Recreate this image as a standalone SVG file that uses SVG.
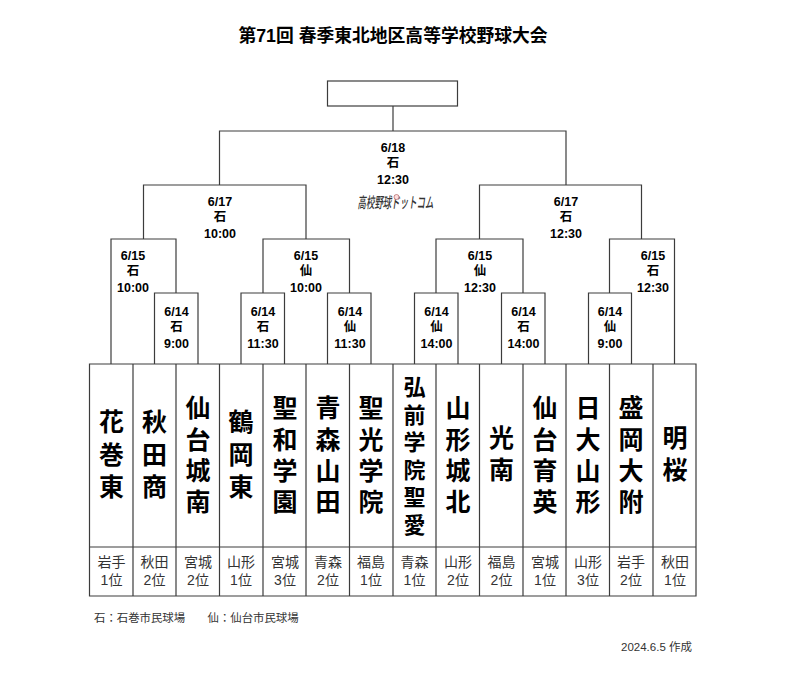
<svg xmlns="http://www.w3.org/2000/svg" width="800" height="674" viewBox="0 0 800 674">
<style>
text{font-family:"Liberation Sans","Noto Sans CJK JP",sans-serif;text-anchor:middle;fill:#000}
.l{fill:none;stroke:#3c3c3c;stroke-width:1.2}
.c{fill:#fff;stroke:#3c3c3c;stroke-width:1.2}
.m{font-size:12.500px;font-weight:700}
.n{font-size:25px;font-weight:700}
.n6{font-size:22px;font-weight:700}
.r{font-size:14px;fill:#333}
.f{font-size:11.400px;fill:#333;text-anchor:start}
</style>
<rect width="800" height="674" fill="#fff"/>
<text id="title" x="393" y="41.500" font-size="17.800" font-weight="700">第71回 春季東北地区高等学校野球大会</text>
<g id="connectors">
<path class="l" d="M393 106V131M219.500 185V131H566V185"/>
<path class="l" d="M143.500 239V185H306V239M479.500 239V185H641.500V239"/>
<path class="l" d="M111 364V239H176V293M263 293V239H349.500V293M436 293V239H523V293M609.500 293V239H674.500V364"/>
<path class="l" d="M154.500 364V293H198V364M241 364V293H284.500V364M327.500 364V293H371V364M414.500 364V293H458V364M501.500 364V293H545V364M588.500 364V293H631.500V364"/>
</g>
<g id="final"><rect class="c" x="327.500" y="81" width="130" height="25"/></g>
<g id="m-618" class="m"><text x="393" y="151.500">6/18</text><text x="393" y="167">石</text><text x="393" y="183.500">12:30</text></g>
<g id="m-617a" class="m"><text x="220" y="205.500">6/17</text><text x="220" y="221">石</text><text x="220" y="237.500">10:00</text></g>
<g id="m-617b" class="m"><text x="566" y="205.500">6/17</text><text x="566" y="221">石</text><text x="566" y="237.500">12:30</text></g>
<g id="m-615a" class="m"><text x="133" y="260">6/15</text><text x="133" y="275">石</text><text x="133" y="291.500">10:00</text></g>
<g id="m-615b" class="m"><text x="306" y="260">6/15</text><text x="306" y="275">仙</text><text x="306" y="291.500">10:00</text></g>
<g id="m-615c" class="m"><text x="480" y="260">6/15</text><text x="480" y="275">仙</text><text x="480" y="291.500">12:30</text></g>
<g id="m-615d" class="m"><text x="653" y="260">6/15</text><text x="653" y="275">石</text><text x="653" y="291.500">12:30</text></g>
<g id="m-614a" class="m"><text x="176.500" y="315.500">6/14</text><text x="176.500" y="331">石</text><text x="176.500" y="347.500">9:00</text></g>
<g id="m-614b" class="m"><text x="263" y="315.500">6/14</text><text x="263" y="331">石</text><text x="263" y="347.500">11:30</text></g>
<g id="m-614c" class="m"><text x="350" y="315.500">6/14</text><text x="350" y="331">仙</text><text x="350" y="347.500">11:30</text></g>
<g id="m-614d" class="m"><text x="436.500" y="315.500">6/14</text><text x="436.500" y="331">仙</text><text x="436.500" y="347.500">14:00</text></g>
<g id="m-614e" class="m"><text x="523.500" y="315.500">6/14</text><text x="523.500" y="331">石</text><text x="523.500" y="347.500">14:00</text></g>
<g id="m-614f" class="m"><text x="610" y="315.500">6/14</text><text x="610" y="331">仙</text><text x="610" y="347.500">9:00</text></g>
<g id="logo"><text x="395.500" y="208" font-size="15" font-weight="500" style="fill:#333;font-style:italic" textLength="76" lengthAdjust="spacingAndGlyphs">高校野球ドットコム</text><circle cx="396.500" cy="197" r="2.500" fill="#fbdcdc" stroke="#b06060" stroke-width=".7"/></g>
<g id="table">
<path class="l" d="M89.500 364H696V596H89.500ZM89.500 547H696M133 364V596M176 364V596M219.500 364V596M263 364V596M306 364V596M349.500 364V596M393 364V596M436 364V596M479.500 364V596M523 364V596M566 364V596M609.500 364V596M653 364V596"/>
</g>
<g id="t1"><text class="n" x="111.500"><tspan x="111.500" y="431">花</tspan><tspan x="111.500" y="464">巻</tspan><tspan x="111.500" y="496">東</tspan></text><text class="r" x="111.500" y="567">岩手</text><text class="r" x="111.500" y="585">1位</text></g>
<g id="t2"><text class="n" x="154.500"><tspan x="154.500" y="431">秋</tspan><tspan x="154.500" y="464">田</tspan><tspan x="154.500" y="496">商</tspan></text><text class="r" x="154.500" y="567">秋田</text><text class="r" x="154.500" y="585">2位</text></g>
<g id="t3"><text class="n" x="198"><tspan x="198" y="417">仙</tspan><tspan x="198" y="449">台</tspan><tspan x="198" y="480">城</tspan><tspan x="198" y="511">南</tspan></text><text class="r" x="198" y="567">宮城</text><text class="r" x="198" y="585">2位</text></g>
<g id="t4"><text class="n" x="241"><tspan x="241" y="431">鶴</tspan><tspan x="241" y="464">岡</tspan><tspan x="241" y="496">東</tspan></text><text class="r" x="241" y="567">山形</text><text class="r" x="241" y="585">1位</text></g>
<g id="t5"><text class="n" x="285"><tspan x="285" y="417">聖</tspan><tspan x="285" y="449">和</tspan><tspan x="285" y="480">学</tspan><tspan x="285" y="511">園</tspan></text><text class="r" x="285" y="567">宮城</text><text class="r" x="285" y="585">3位</text></g>
<g id="t6"><text class="n" x="328"><tspan x="328" y="417">青</tspan><tspan x="328" y="449">森</tspan><tspan x="328" y="480">山</tspan><tspan x="328" y="511">田</tspan></text><text class="r" x="328" y="567">青森</text><text class="r" x="328" y="585">2位</text></g>
<g id="t7"><text class="n" x="371"><tspan x="371" y="417">聖</tspan><tspan x="371" y="449">光</tspan><tspan x="371" y="480">学</tspan><tspan x="371" y="511">院</tspan></text><text class="r" x="371" y="567">福島</text><text class="r" x="371" y="585">1位</text></g>
<g id="t8"><text class="n6" x="414.500"><tspan x="414.500" y="395">弘</tspan><tspan x="414.500" y="423">前</tspan><tspan x="414.500" y="450">学</tspan><tspan x="414.500" y="478">院</tspan><tspan x="414.500" y="505">聖</tspan><tspan x="414.500" y="533">愛</tspan></text><text class="r" x="414.500" y="567">青森</text><text class="r" x="414.500" y="585">1位</text></g>
<g id="t9"><text class="n" x="458"><tspan x="458" y="417">山</tspan><tspan x="458" y="449">形</tspan><tspan x="458" y="480">城</tspan><tspan x="458" y="511">北</tspan></text><text class="r" x="458" y="567">山形</text><text class="r" x="458" y="585">2位</text></g>
<g id="t10"><text class="n" x="501.500"><tspan x="501.500" y="447">光</tspan><tspan x="501.500" y="479">南</tspan></text><text class="r" x="501.500" y="567">福島</text><text class="r" x="501.500" y="585">2位</text></g>
<g id="t11"><text class="n" x="545"><tspan x="545" y="417">仙</tspan><tspan x="545" y="449">台</tspan><tspan x="545" y="480">育</tspan><tspan x="545" y="511">英</tspan></text><text class="r" x="545" y="567">宮城</text><text class="r" x="545" y="585">1位</text></g>
<g id="t12"><text class="n" x="588"><tspan x="588" y="417">日</tspan><tspan x="588" y="449">大</tspan><tspan x="588" y="480">山</tspan><tspan x="588" y="511">形</tspan></text><text class="r" x="588" y="567">山形</text><text class="r" x="588" y="585">3位</text></g>
<g id="t13"><text class="n" x="631"><tspan x="631" y="417">盛</tspan><tspan x="631" y="449">岡</tspan><tspan x="631" y="480">大</tspan><tspan x="631" y="511">附</tspan></text><text class="r" x="631" y="567">岩手</text><text class="r" x="631" y="585">2位</text></g>
<g id="t14"><text class="n" x="675"><tspan x="675" y="447">明</tspan><tspan x="675" y="479">桜</tspan></text><text class="r" x="675" y="567">秋田</text><text class="r" x="675" y="585">1位</text></g>
<text id="legend1" class="f" x="94" y="622">石：石巻市民球場</text>
<text id="legend2" class="f" x="207.500" y="622">仙：仙台市民球場</text>
<text id="date" x="692" y="651" font-size="11.500" style="text-anchor:end;fill:#333">2024.6.5 作成</text>
</svg>
